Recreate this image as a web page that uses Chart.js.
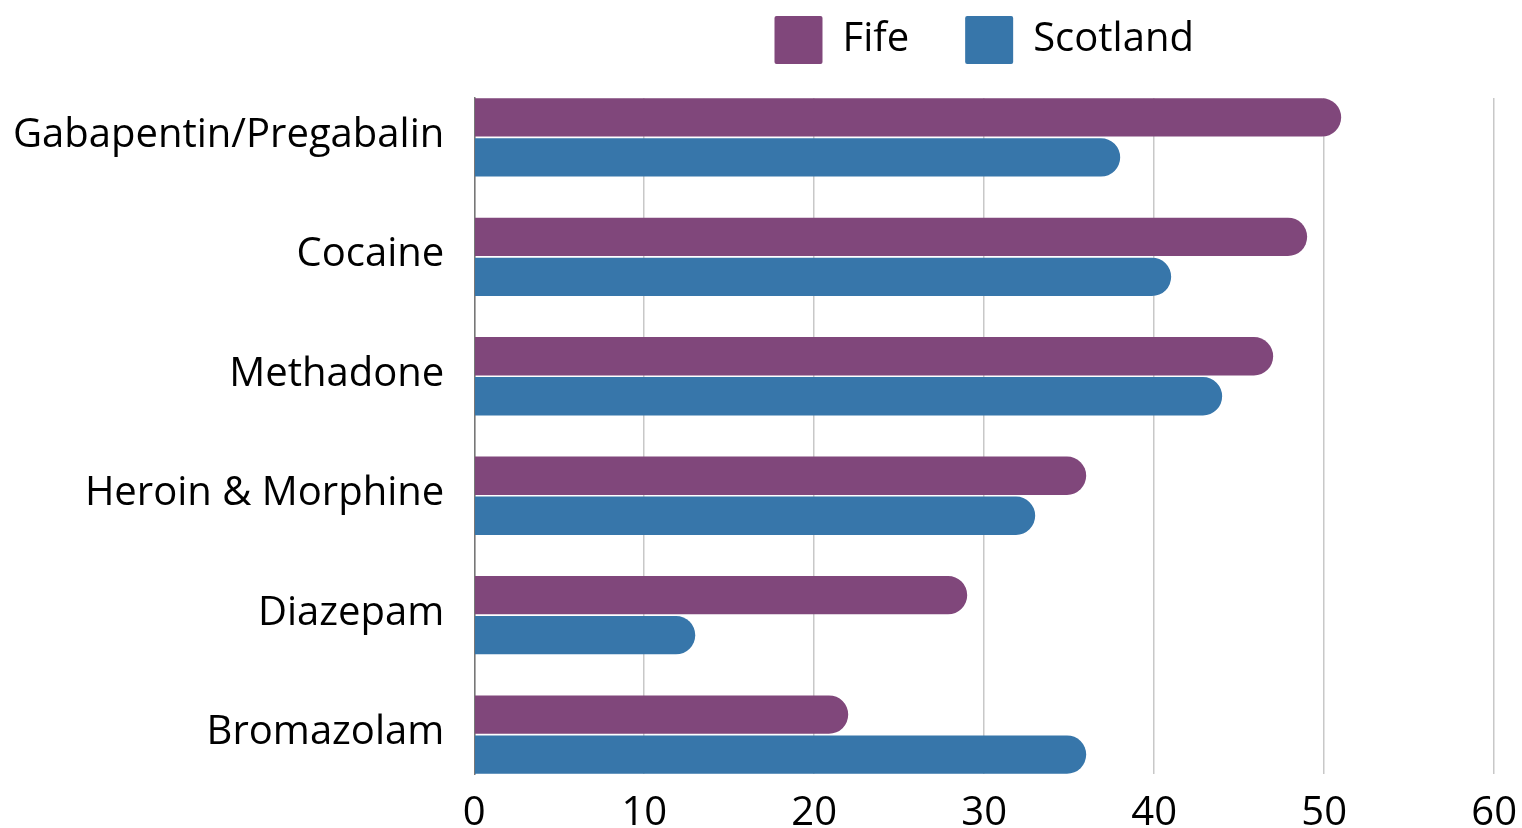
<!DOCTYPE html>
<html>
<head>
<meta charset="utf-8">
<title>Drugs implicated: Fife and Scotland</title>
<script src="https://cdn.jsdelivr.net/npm/chart.js@4.4.1/dist/chart.umd.min.js"></script>
<style>
  html, body { margin: 0; padding: 0; background: #fff; }
  #wrap { width: 1522px; height: 828px; position: relative; }
</style>
</head>
<body>
<div id="wrap"><canvas id="drugsChart"></canvas></div>
<script>
const drugs = ['Gabapentin/Pregabalin', 'Cocaine', 'Methadone', 'Heroin & Morphine', 'Diazepam', 'Bromazolam'];
const fifeValues = [51, 49, 47, 36, 29, 22];
const scotlandValues = [38, 41, 44, 33, 13, 36];
const xTicks = [0, 10, 20, 30, 40, 50, 60];

const FIFE_PURPLE = '#80477b';
const SCOTLAND_BLUE = '#3776aa';

// y is a linear index axis so the first and last bars sit flush with the plot edges
const toPoints = values => values.map((v, i) => ({ x: v, y: i }));

// extra room between the legend and the plot
const legendGap = {
    id: 'legendGap',
    beforeInit(chart) {
        const fit = chart.legend.fit;
        chart.legend.fit = function () {
            fit.call(this);
            this.height += 24;
        };
    }
};

Chart.defaults.font.family = "'Open Sans', sans-serif";
Chart.defaults.font.size = 40;
Chart.defaults.color = '#000';

new Chart(document.getElementById('drugsChart'), {
    type: 'bar',

    data: {
        datasets: [
            {
                label: 'Fife',
                data: toPoints(fifeValues),
                backgroundColor: FIFE_PURPLE
            },
            {
                label: 'Scotland',
                data: toPoints(scotlandValues),
                backgroundColor: SCOTLAND_BLUE
            }
        ]
    },

    options: {
        indexAxis: 'y',
        responsive: true,
        maintainAspectRatio: false,
        animation: false,

        layout: {
            padding: { top: -40, left: -17, right: 0, bottom: -26 }
        },

        datasets: {
            bar: {
                categoryPercentage: 0.67,
                barPercentage: 0.96,
                borderRadius: 20,
                borderSkipped: 'start'
            }
        },

        scales: {
            x: {
                type: 'linear',
                min: 0,
                max: 60,
                afterBuildTicks: axis => {
                    axis.ticks = xTicks.map(v => ({ value: v }));
                },
                grid: { color: '#c8c8c8', lineWidth: 1.5, drawTicks: false },
                border: { display: false },
                ticks: {
                    color: '#000',
                    padding: 5,
                    font: { size: 40, lineHeight: 1.725 }
                }
            },
            y: {
                type: 'linear',
                reverse: true,
                offset: false,
                min: -0.33,
                max: 5.33,
                afterBuildTicks: axis => {
                    axis.ticks = drugs.map((_, i) => ({ value: i }));
                },
                grid: { display: false, drawTicks: false, offset: false },
                border: { color: '#777', width: 1.5 },
                ticks: {
                    color: '#000',
                    padding: 30,
                    labelOffset: -2,
                    autoSkip: false,
                    font: { size: 40 },
                    callback: v => drugs[v]
                }
            }
        },

        plugins: {
            legend: {
                fullSize: false,
                labels: {
                    boxWidth: 48,
                    boxHeight: 48,
                    padding: 56,
                    useBorderRadius: true,
                    borderRadius: 2,
                    color: '#000',
                    font: { size: 40 }
                }
            },
            tooltip: { enabled: false }
        }
    },

    plugins: [legendGap]
});
</script>
</body>
</html>
